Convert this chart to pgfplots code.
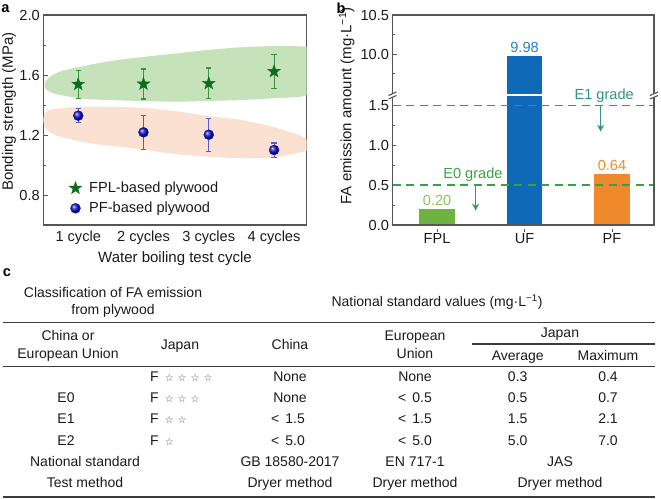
\documentclass[border=0pt]{standalone}
\usepackage{pgfplots}
\pgfplotsset{compat=1.18}
\usepackage{fontspec}
\setmainfont{Liberation Sans}
\newfontfamily\symfont{DejaVu Sans}
\usetikzlibrary{arrows.meta,plotmarks}

\definecolor{spine}{HTML}{555555}
\definecolor{fplgreen}{HTML}{0E6B1E}
\definecolor{fplerr}{HTML}{3F8F3F}
\definecolor{pfblue}{HTML}{1414C8}
\definecolor{pferr}{HTML}{5A5ACF}
\definecolor{bandgreen}{HTML}{C6E2BA}
\definecolor{bandpeach}{HTML}{FBE1D2}
\definecolor{barfpl}{HTML}{6DB33F}
\definecolor{labfpl}{HTML}{8DC55A}
\definecolor{baruf}{HTML}{1068B8}
\definecolor{labuf}{HTML}{2A80C8}
\definecolor{barpf}{HTML}{F0892C}
\definecolor{e1col}{HTML}{2F9583}
\definecolor{e0col}{HTML}{3AA048}
\definecolor{txt}{HTML}{1A1A1A}
\definecolor{stargray}{HTML}{555555}

\pgfdeclareplotmark{fstar}{%
  \pgfpathmoveto{\pgfpointpolar{90}{\pgfplotmarksize}}%
  \pgfpathlineto{\pgfpointpolar{126}{0.40\pgfplotmarksize}}%
  \pgfpathlineto{\pgfpointpolar{162}{\pgfplotmarksize}}%
  \pgfpathlineto{\pgfpointpolar{198}{0.40\pgfplotmarksize}}%
  \pgfpathlineto{\pgfpointpolar{234}{\pgfplotmarksize}}%
  \pgfpathlineto{\pgfpointpolar{270}{0.40\pgfplotmarksize}}%
  \pgfpathlineto{\pgfpointpolar{306}{\pgfplotmarksize}}%
  \pgfpathlineto{\pgfpointpolar{342}{0.40\pgfplotmarksize}}%
  \pgfpathlineto{\pgfpointpolar{18}{\pgfplotmarksize}}%
  \pgfpathlineto{\pgfpointpolar{54}{0.40\pgfplotmarksize}}%
  \pgfpathclose
  \pgfusepathqfillstroke
}

\newcommand{\fs}{\fontsize{14.6bp}{17bp}\selectfont}
\newcommand{\lfs}{\fontsize{15bp}{17bp}\selectfont}
\newcommand{\tfs}{\fontsize{14bp}{16bp}\selectfont}
\newcommand{\st}{{\symfont\fontsize{10bp}{10bp}\selectfont\color{stargray}☆}}

\pgfplotsset{
  myaxis/.style={
    scale only axis,
    axis line style={spine, line width=1.2bp},
    tick style={spine, line width=1bp},
    major tick length=4.5bp, minor tick length=2.5bp,
    tick align=inside,
    font=\fs,
    tick label style={font=\fs, text=txt},
    label style={font=\lfs, text=txt},
    /pgf/number format/assume math mode=true,
    clip mode=individual,
    xtick pos=bottom, ytick pos=left,
  },
}

\begin{document}
\begin{tikzpicture}
\path[use as bounding box] (0bp,0bp) rectangle (661bp,-499bp);

% ---------------- panel a ----------------
\begin{axis}[myaxis, at={(43.3bp,-225bp)}, anchor=south west,
  width=263.4bp, height=210bp,
  xmin=0.465, xmax=4.5, ymin=0.6, ymax=2.0,
  xtick={1,2,3,4}, xticklabels={1 cycle,2 cycles,3 cycles,4 cycles},
  x tick style={draw=none},
  xticklabel style={yshift=-2.5bp},
  ytick={0.8,1.2,1.6,2.0}, minor ytick={1.0,1.4,1.8},
  yticklabel style={/pgf/number format/.cd,fixed,fixed zerofill,precision=1},
  xlabel={Water boiling test cycle}, ylabel={Bonding strength (MPa)},
  xlabel style={at={(axis description cs:0.5,-0.160)}, anchor=center},
  ylabel style={at={(axis description cs:-0.130,0.54)}, anchor=center},
  legend style={draw=none, fill=none, at={(0.098,0.212)}, anchor=north west,
    font=\fs, inner sep=0pt, row sep=5bp, column sep=6bp, nodes={inner sep=1.5bp, text=txt}},
  legend cell align=left,
]
% green band
\addplot[forget plot, fill=bandgreen, draw=none, smooth, tension=0.45] coordinates {
 (4.70,1.70) (4.55,1.775) (4.445,1.790) (4.01,1.793) (3.50,1.785) (2.99,1.767) (2.48,1.743)
 (1.945,1.718) (1.435,1.689) (0.923,1.645) (0.72,1.622) (0.58,1.592) (0.50,1.558)
 (0.485,1.530) (0.51,1.503) (0.60,1.480) (0.72,1.467) (0.95,1.450) (1.18,1.438)
 (1.945,1.427) (2.48,1.422) (2.99,1.427) (3.50,1.433) (4.01,1.445) (4.40,1.455)
 (4.55,1.48) (4.70,1.55)};
% peach band
\addplot[forget plot, fill=bandpeach, draw=none, smooth, tension=0.45] coordinates {
 (4.60,1.12) (4.50,1.165) (4.445,1.189) (4.01,1.251) (3.50,1.300) (2.99,1.327) (2.48,1.360)
 (1.945,1.382) (1.18,1.389) (0.72,1.378) (0.55,1.365) (0.485,1.340) (0.465,1.300)
 (0.485,1.255) (0.56,1.222) (0.72,1.189) (1.18,1.145) (1.945,1.105) (2.48,1.073)
 (2.99,1.055) (3.50,1.045) (4.01,1.051) (4.445,1.089) (4.55,1.10)};
% error bars
\addplot[forget plot, only marks, mark=none, draw=none,
  error bars/.cd, y dir=both, y explicit,
  error bar style={draw=fplerr, line width=1.1bp},
  error mark options={rotate=90, mark size=2.6bp, draw=fplerr, line width=1.1bp}]
  coordinates {(1,1.538) +- (0,0.093) (2,1.540) +- (0,0.100) (3,1.544) +- (0,0.103) (4,1.624) +- (0,0.113)};
\addplot[forget plot, only marks, mark=none, draw=none,
  error bars/.cd, y dir=both, y explicit,
  error bar style={draw=pferr, line width=1.1bp},
  error mark options={rotate=90, mark size=2.6bp, draw=pferr, line width=1.1bp}]
  coordinates {(1,1.329) +- (0,0.046) (2,1.218) +- (0,0.115) (3,1.202) +- (0,0.110) (4,1.100) +- (0,0.047)};
% markers
\addplot[only marks, mark=fstar, mark size=6.5bp, color=fplgreen,
  mark options={fill=fplgreen, draw=fplgreen, line width=0.5bp}]
  coordinates {(1,1.538) (2,1.540) (3,1.544) (4,1.624)};
\addlegendentry{FPL-based plywood}
\addplot[only marks, mark=ball, ball color=pfblue, mark size=5bp, color=pfblue]
  coordinates {(1,1.329) (2,1.218) (3,1.202) (4,1.100)};
\addlegendentry{PF-based plywood}
\end{axis}

% ---------------- panel b (lower part) ----------------
\begin{axis}[myaxis, at={(392.5bp,-225bp)}, anchor=south west,
  width=261.5bp, height=128.5bp, axis line style={draw=none},
  xmin=-0.51, xmax=2.48, ymin=0, ymax=1.61,
  xtick={0,1,2}, xticklabels={FPL,UF,PF},
  x tick style={yshift=-3.5bp}, major tick length=3.5bp,
  xticklabel style={yshift=-1.5bp},
  ytick={0,0.5,1.0,1.5}, minor ytick={0.25,0.75,1.25},
  yticklabel style={/pgf/number format/.cd,fixed,fixed zerofill,precision=1},
  ybar, bar width=35.5bp, bar shift=0pt,
]
\addplot[fill=barfpl, draw=none, nodes near coords, point meta=explicit symbolic,
  nodes near coords style={text=labfpl, font=\fs}] coordinates {(0,0.20) [0.20]};
\addplot[fill=baruf, draw=none] coordinates {(1,9.98)};
\addplot[fill=barpf, draw=none, nodes near coords, point meta=explicit symbolic,
  nodes near coords style={text=barpf, font=\fs}] coordinates {(2,0.64) [0.64]};
% grade lines
\addplot[sharp plot, draw=e1col, dash pattern=on 8bp off 5.5bp, line width=1.3bp] coordinates {(-0.51,1.5) (2.48,1.5)};
\addplot[sharp plot, draw=e0col, dash pattern=on 8bp off 5.5bp, line width=1.2bp] coordinates {(-0.51,0.5) (2.48,0.5)};
\addplot[sharp plot, draw=e1col, line width=1.2bp, -{Stealth[length=7bp,width=7bp]}] coordinates {(1.87,1.5) (1.87,1.17)};
\addplot[sharp plot, draw=e0col, line width=1.2bp, -{Stealth[length=7bp,width=7bp]}] coordinates {(0.44,0.5) (0.44,0.18)};
\node[text=e0col, font=\fs] at (axis cs:0.41,0.627) {E0 grade};
\node[text=e1col, font=\fs] at (axis cs:1.91,1.62) {E1 grade};
\draw[spine, line width=1.2bp] (rel axis cs:0,1) -- (rel axis cs:0,0) -- (rel axis cs:1,0) -- (rel axis cs:1,1);
\end{axis}

% ---------------- panel b (upper part) ----------------
\begin{axis}[myaxis, at={(392.5bp,-15bp)}, anchor=north west,
  width=261.5bp, height=79.4bp, axis line style={draw=none},
  xmin=-0.51, xmax=2.48, ymin=9.49, ymax=10.5,
  xtick=\empty,
  ytick={10.0,10.5}, minor ytick={9.75,10.25},
  yticklabel style={/pgf/number format/.cd,fixed,fixed zerofill,precision=1},
  ybar, bar width=35.5bp, bar shift=0pt,
]
\addplot[fill=baruf, draw=none, nodes near coords, point meta=explicit symbolic,
  nodes near coords style={text=labuf, font=\fs}] coordinates {(1,9.98) [9.98]};
\draw[spine, line width=1.2bp] (rel axis cs:0,0) -- (rel axis cs:0,1) -- (rel axis cs:1,1) -- (rel axis cs:1,0);
\end{axis}

\begin{scope}[x=1bp,y=1bp]
% axis break marks
\foreach \xx in {392.5,654} {
  \draw[spine, line width=1.1bp] (\xx-4,-95.5) -- (\xx+4,-92);
  \draw[spine, line width=1.1bp] (\xx-4,-99) -- (\xx+4,-95.5);
}
\node[rotate=90, font=\lfs, text=txt] at (346.7,-106) {FA emission amount (mg·L\textsuperscript{−1})};

% panel letters
\node[font=\bfseries\fs, inner sep=0pt] at (5.5,-9) {a};
\node[font=\bfseries\fs, inner sep=0pt] at (341,-8.5) {b};
\node[font=\bfseries\fs, inner sep=0pt] at (7,-273) {c};
\end{scope}

% ---------------- panel c (table) ----------------
\begin{scope}[x=1bp, y=1bp, every node/.style={font=\tfs, text=txt, inner sep=0pt, text height=10.5bp, text depth=2.5bp}]
\node at (113,-293.3) {Classification of FA emission};
\node at (113,-310.7) {from plywood};
\node at (437,-302.7) {National standard values (mg·L\textsuperscript{−1})};
\draw[txt!85, line width=1.6bp] (3,-322.3) -- (655,-322.3);
\node at (68,-336.5) {China or};
\node at (68,-354) {European Union};
\node at (180,-345) {Japan};
\node at (290,-345) {China};
\node at (415,-336.5) {European};
\node at (415,-354) {Union};
\node at (560,-333) {Japan};
\draw[txt!85, line width=1.3bp] (471.7,-344) -- (655,-344);
\node at (517.7,-356) {Average};
\node at (608,-356) {Maximum};
\draw[txt!85, line width=1.6bp] (3,-366.5) -- (655,-366.5);
% rows
\node[anchor=west] at (150,-377.5) {F\hspace{6bp}\st\hspace{4bp}\st\hspace{4bp}\st\hspace{4bp}\st};
\node at (290,-377.5) {None};
\node at (415,-377.5) {None};
\node at (517.7,-377.5) {0.3};
\node at (608,-377.5) {0.4};
\node at (66,-398) {E0};
\node[anchor=west] at (150,-398) {F\hspace{6bp}\st\hspace{4bp}\st\hspace{4bp}\st};
\node at (290,-398) {None};
\node at (415,-398) {<\, 0.5};
\node at (517.7,-398) {0.5};
\node at (608,-398) {0.7};
\node at (66,-419.5) {E1};
\node[anchor=west] at (150,-419.5) {F\hspace{6bp}\st\hspace{4bp}\st};
\node at (288,-419.5) {<\, 1.5};
\node at (415,-419.5) {<\, 1.5};
\node at (517.7,-419.5) {1.5};
\node at (608,-419.5) {2.1};
\node at (66,-441) {E2};
\node[anchor=west] at (150,-441) {F\hspace{6bp}\st};
\node at (288,-441) {<\, 5.0};
\node at (415,-441) {<\, 5.0};
\node at (517.7,-441) {5.0};
\node at (608,-441) {7.0};
\node at (85,-462) {National standard};
\node at (290,-462) {GB 18580-2017};
\node at (415,-462) {EN 717-1};
\node at (560,-462) {JAS};
\node at (85,-483.5) {Test method};
\node at (290,-483.5) {Dryer method};
\node at (415,-483.5) {Dryer method};
\node at (560,-483.5) {Dryer method};
\draw[txt!85, line width=1.8bp] (3,-497.3) -- (655,-497.3);
\end{scope}
\end{tikzpicture}
\end{document}
